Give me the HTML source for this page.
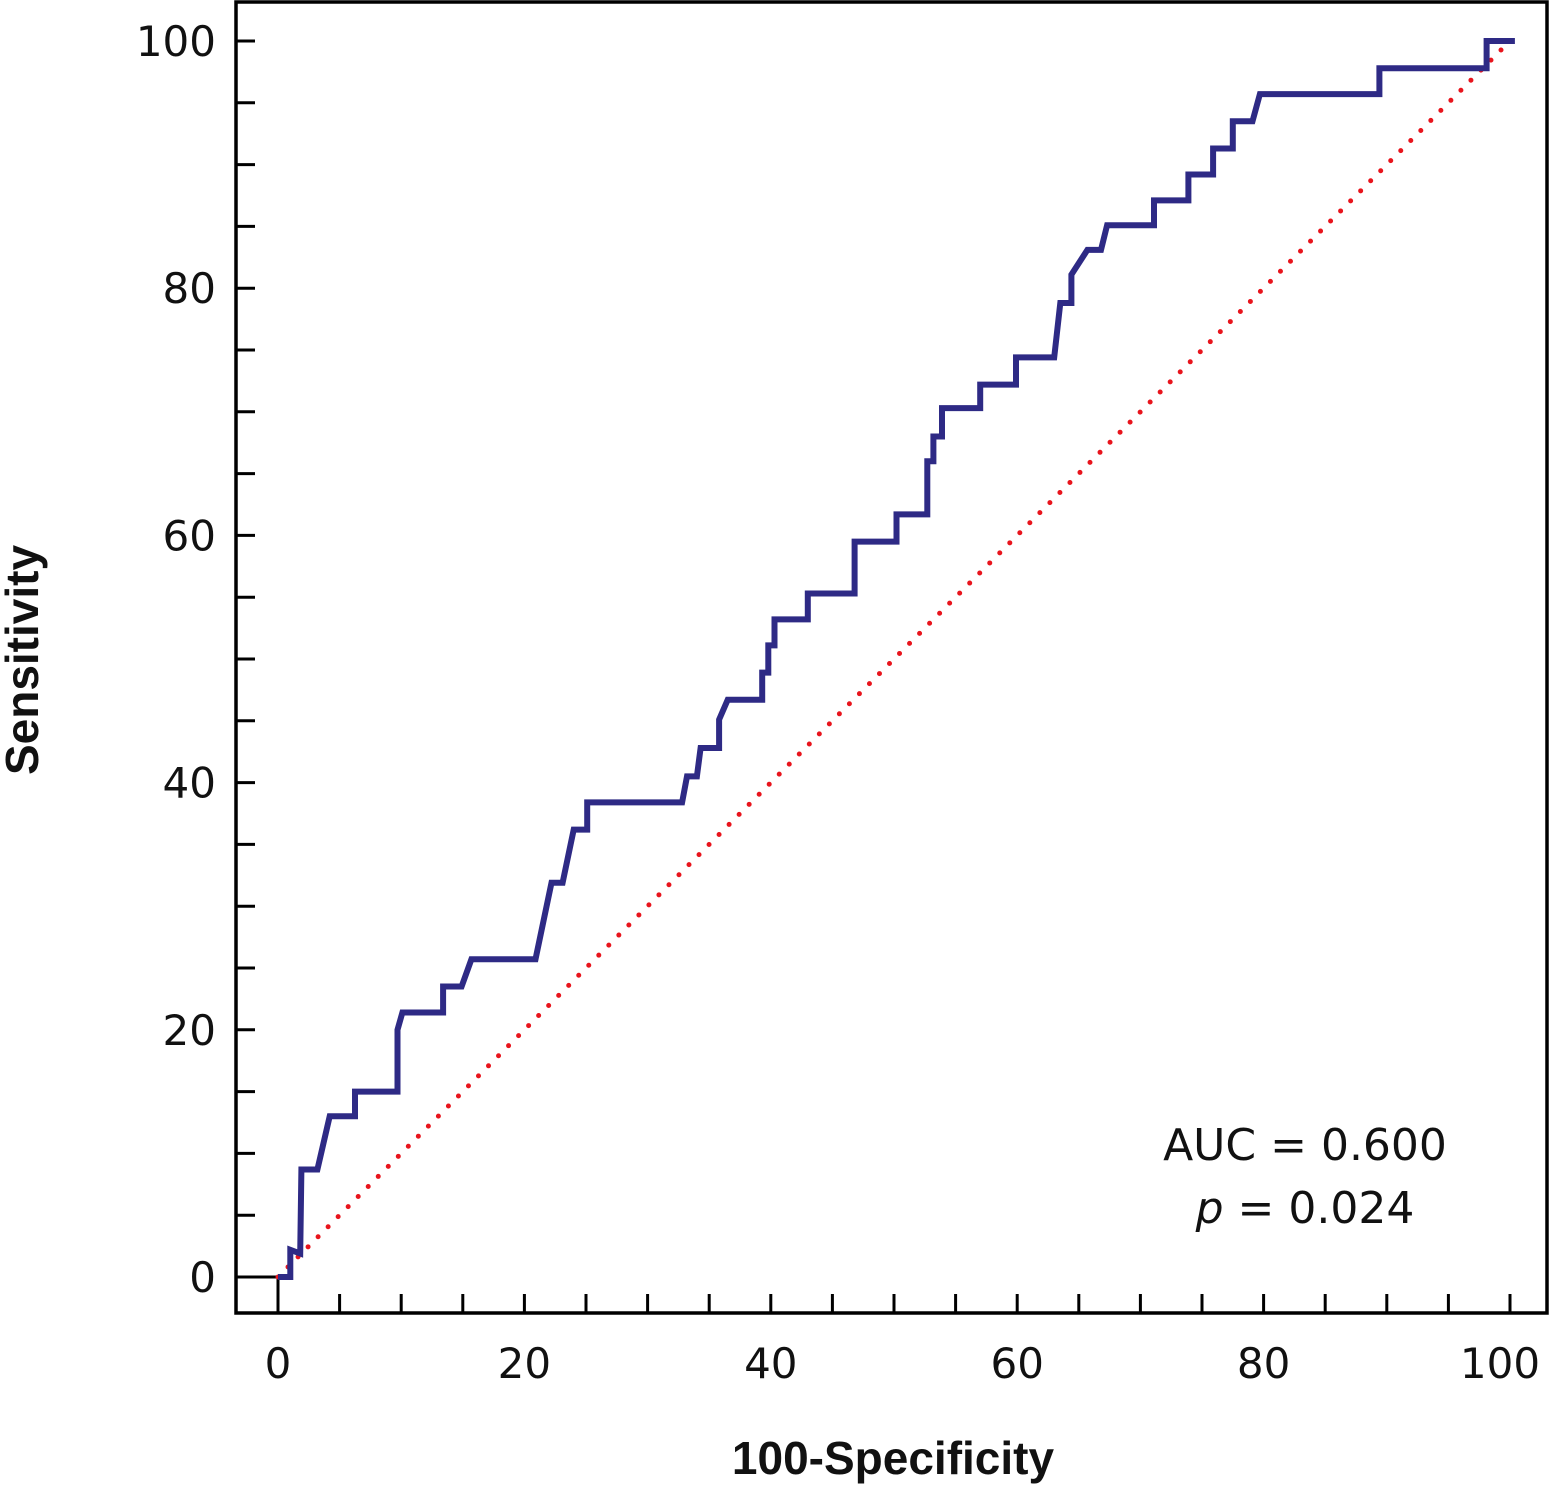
<!DOCTYPE html>
<html><head><meta charset="utf-8"><style>
html,body{margin:0;padding:0;background:#fff;}
svg{display:block;font-family:"DejaVu Sans","Liberation Sans",sans-serif;}
</style></head><body>
<svg id="chart" width="1550" height="1485" viewBox="0 0 1550 1485" xmlns="http://www.w3.org/2000/svg">
<rect x="236" y="2" width="1311" height="1311" fill="none" stroke="#000" stroke-width="3.5"/>
<g id="axes"></g>
<line id="diag" stroke="#e8141c" stroke-width="5" stroke-dasharray="0 14.2" stroke-linecap="round"/>
<polyline id="roc" fill="none" stroke="#2e2a85" stroke-width="6" stroke-linejoin="miter"/>
<text x="1305" y="1160" font-size="44" text-anchor="middle" fill="#111">AUC = 0.600</text>
<text x="1305" y="1223" font-size="44" text-anchor="middle" fill="#111"><tspan font-style="italic">p</tspan> = 0.024</text>
<text x="893" y="1474" font-size="46" font-weight="bold" text-anchor="middle" fill="#111" style="font-family:'Liberation Sans',sans-serif">100-Specificity</text>
<text transform="translate(38,660) rotate(-90)" font-size="46" font-weight="bold" text-anchor="middle" fill="#111" style="font-family:'Liberation Sans',sans-serif">Sensitivity</text>
</svg>
<script>
const fprX = [0,1.0,1.0,1.8,1.9,3.2,4.2,6.25,6.25,9.7,9.7,10.1,13.4,13.4,14.9,15.7,20.9,22.2,23.1,24.0,25.1,25.1,32.8,33.2,34.0,34.3,35.8,35.8,36.5,39.3,39.3,39.8,39.8,40.3,40.3,43.0,43.0,46.8,46.8,50.2,50.2,52.7,52.7,53.2,53.2,53.9,53.9,57.0,57.0,59.9,59.9,63.0,63.5,64.4,64.4,65.7,66.8,67.3,71.1,71.1,73.9,73.9,75.9,75.9,77.5,77.5,79.1,79.7,89.4,89.4,98.1,98.1,100.4];
const sensY = [0,0,2.2,1.9,8.7,8.7,13.0,13.0,15.0,15.0,20.0,21.4,21.4,23.5,23.5,25.7,25.7,31.9,31.9,36.2,36.2,38.4,38.4,40.5,40.5,42.8,42.8,45.1,46.7,46.7,48.9,48.9,51.1,51.1,53.2,53.2,55.3,55.3,59.5,59.5,61.7,61.7,66.0,66.0,68.0,68.0,70.3,70.3,72.2,72.2,74.4,74.4,78.8,78.8,81.1,83.1,83.1,85.1,85.1,87.1,87.1,89.2,89.2,91.3,91.3,93.5,93.5,95.7,95.7,97.8,97.8,100,100];
const tickLabels = ["0","20","40","60","80","100"];
const minorTicks = [0,5,10,15,20,25,30,35,40,45,50,55,60,65,70,75,80,85,90,95,100];

const X0=278, X1=1510, Y0=1277, Y1=41;
const sx = v => X0 + (X1-X0)*v/100;
const sy = v => Y0 - (Y0-Y1)*v/100;
const NS="http://www.w3.org/2000/svg";
const axes=document.getElementById('axes');

minorTicks.forEach(t=>{
  const ly=document.createElementNS(NS,'line');
  ly.setAttribute('x1',236);ly.setAttribute('x2',255);
  ly.setAttribute('y1',sy(t));ly.setAttribute('y2',sy(t));
  ly.setAttribute('stroke','#000');ly.setAttribute('stroke-width','3');
  
  
  axes.appendChild(ly);
  const lx=document.createElementNS(NS,'line');
  lx.setAttribute('x1',sx(t));lx.setAttribute('x2',sx(t));
  lx.setAttribute('y1',1313);lx.setAttribute('y2',t===0?1277:1294);
  lx.setAttribute('stroke','#000');lx.setAttribute('stroke-width','3');
  
  
  axes.appendChild(lx);
});
const zl=document.createElementNS(NS,'line');
zl.setAttribute('x1',236);zl.setAttribute('x2',278);zl.setAttribute('y1',Y0);zl.setAttribute('y2',Y0);
zl.setAttribute('stroke','#000');zl.setAttribute('stroke-width','3');


axes.appendChild(zl);

tickLabels.forEach(s=>{
  const v=parseFloat(s);
  const ty=document.createElementNS(NS,'text');
  ty.setAttribute('x',216);ty.setAttribute('y',sy(v)+15);
  ty.setAttribute('text-anchor','end');ty.setAttribute('font-size','42');ty.setAttribute('fill','#111');
  ty.textContent=s;
  
  
  axes.appendChild(ty);
  const tx=document.createElementNS(NS,'text');
  tx.setAttribute('x',sx(v)-(v===100?10:0));tx.setAttribute('y',1378);
  tx.setAttribute('text-anchor','middle');tx.setAttribute('font-size','42');tx.setAttribute('fill','#111');
  tx.textContent=s;
  
  
  axes.appendChild(tx);
});

const d=document.getElementById('diag');
d.setAttribute('x1',sx(0));d.setAttribute('y1',sy(0));
d.setAttribute('x2',sx(100));d.setAttribute('y2',sy(100));

document.getElementById('roc').setAttribute('points',
  fprX.map((x,i)=>sx(x).toFixed(1)+','+sy(sensY[i]).toFixed(1)).join(' '));
</script>
</body></html>
